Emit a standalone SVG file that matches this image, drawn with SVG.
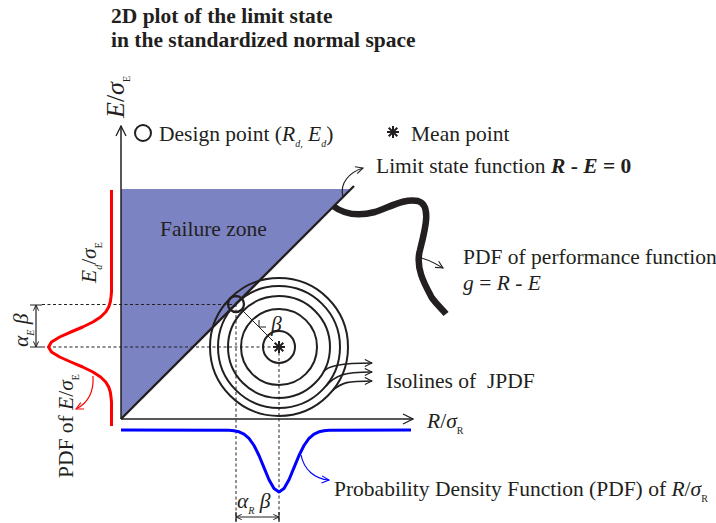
<svg xmlns="http://www.w3.org/2000/svg" width="716" height="523" viewBox="0 0 716 523">
<defs>
<style>
text{font-family:"Liberation Serif","Times New Roman",serif;fill:#231f20}
.t{font-size:21.5px}
.big{font-size:26px}
.title{font-size:21.5px;font-weight:bold}
.i{font-style:italic}
.b{font-weight:bold}
.sub{font-size:10px}
.dash{stroke:#231f20;stroke-width:1;stroke-dasharray:3 2.5;fill:none}
.ln{stroke:#231f20;fill:none}
</style>
<marker id="ak" viewBox="0 0 10 10" refX="9" refY="5" markerWidth="9" markerHeight="9" markerUnits="userSpaceOnUse" orient="auto"><path d="M1,1 L9,5 L1,9" fill="none" stroke="#231f20" stroke-width="1.2"/></marker>
<marker id="ar" viewBox="0 0 10 10" refX="9" refY="5" markerWidth="9" markerHeight="9" markerUnits="userSpaceOnUse" orient="auto"><path d="M1,1 L9,5 L1,9" fill="none" stroke="#ff0000" stroke-width="1.2"/></marker>
<marker id="ab" viewBox="0 0 10 10" refX="9" refY="5" markerWidth="9" markerHeight="9" markerUnits="userSpaceOnUse" orient="auto"><path d="M1,1 L9,5 L1,9" fill="none" stroke="#0000ff" stroke-width="1.2"/></marker>
<marker id="ax" viewBox="0 0 12 12" refX="11" refY="6" markerWidth="12" markerHeight="12" markerUnits="userSpaceOnUse" orient="auto"><path d="M1,1 L11,6 L1,11" fill="none" stroke="#231f20" stroke-width="1.3"/></marker>
<marker id="dm" viewBox="0 0 8 8" refX="7.5" refY="4" markerWidth="7" markerHeight="7" markerUnits="userSpaceOnUse" orient="auto-start-reverse"><path d="M1,1 L7.5,4 L1,7" fill="none" stroke="#231f20" stroke-width="1.1"/></marker>
<g id="star"><path d="M-6,0 H6 M0,-6 V6 M-4.3,-4.3 L4.3,4.3 M-4.3,4.3 L4.3,-4.3" stroke="#231f20" stroke-width="2" fill="none"/></g>
</defs>

<g id="title">
<text class="title" x="111" y="23">2D plot of the limit state</text>
<text class="title" x="111" y="47">in the standardized normal space</text>
</g>

<g id="failure-zone">
<polygon points="121,189 350,189 121,419" fill="#7b83c3"/>
<text class="t" x="160" y="236">Failure zone</text>
</g>

<g id="limit-state">
<line x1="121" y1="419" x2="354" y2="186" stroke="#231f20" stroke-width="2.3"/>
</g>

<g id="guides">
<path class="dash" d="M42,304.5 H236 M42,347 H279 M236,304 V521 M279,347 V521"/>
</g>

<g id="axes">
<line x1="121" y1="419" x2="121" y2="126" class="ln" stroke-width="1.5" marker-end="url(#ax)"/>
<line x1="121" y1="419" x2="413" y2="419" class="ln" stroke-width="1.5" marker-end="url(#ax)"/>
<text class="big" transform="translate(124,118) rotate(-90)"><tspan class="i">E</tspan>/<tspan class="i">σ</tspan><tspan class="sub" dy="6">E</tspan></text>
<text class="t" x="427" y="428"><tspan class="i">R</tspan>/<tspan class="i">σ</tspan><tspan class="sub" dy="6">R</tspan></text>
</g>

<g id="isolines">
<circle cx="279" cy="347" r="16" class="ln" stroke-width="2"/>
<circle cx="279" cy="347" r="38" class="ln" stroke-width="2"/>
<circle cx="279" cy="347" r="51" class="ln" stroke-width="2"/>
<circle cx="279" cy="347" r="61" class="ln" stroke-width="2"/>
<circle cx="279" cy="347" r="69" class="ln" stroke-width="2"/>
<text class="t" x="386" y="388">Isolines of&#160; JPDF</text>
</g>

<g id="mean-point">
<use href="#star" x="279" y="347"/>
</g>

<g id="design-point">
<circle cx="236" cy="304" r="8" class="ln" stroke-width="2.3"/>
<line x1="242" y1="310" x2="273" y2="341" class="ln" stroke-width="1"/>
<path d="M259,320 L259,327 L266,327" class="ln" stroke-width="1"/>
<text class="t i" x="271" y="331">β</text>
</g>

<g id="legend">
<circle cx="143" cy="133" r="8" class="ln" stroke-width="2"/>
<text class="t" x="159" y="141">Design point (<tspan class="i">R</tspan><tspan class="sub i" dy="6">d,</tspan><tspan dy="-6"> </tspan><tspan class="i">E</tspan><tspan class="sub i" dy="6">d</tspan><tspan dy="-6">)</tspan></text>
<use href="#star" x="393" y="132"/>
<text class="t" x="411" y="141">Mean point</text>
</g>

<g id="pdf-E">
<polyline fill="none" stroke="#ff0000" stroke-width="3" stroke-linejoin="round" points="111.5,190 111.5,292 111,297 110.3,302 108.7,307 105.7,312 100.6,317 92.9,322 82.7,327 70.9,332 59.7,337 51.5,342 48.5,347 51.5,352 59.7,357 70.9,362 82.7,367 92.9,372 100.6,377 105.7,382 108.7,387 110.3,392 111,397 111.5,402 111.5,426"/>
<text class="t" transform="translate(96,283) rotate(-90)"><tspan class="i">E</tspan><tspan class="sub i" dy="6">d</tspan><tspan dy="-6">/</tspan><tspan class="i">σ</tspan><tspan class="sub" dy="6">E</tspan></text>
<text class="t" transform="translate(73,478) rotate(-90)">PDF of <tspan class="i">E</tspan>/<tspan class="i">σ</tspan><tspan class="sub" dy="6">E</tspan></text>
</g>

<g id="pdf-R">
<polyline fill="none" stroke="#0000ff" stroke-width="3" stroke-linejoin="round" points="121,430 229,430.2 234,430.7 239,431.8 244,434.1 249,438.4 254,445.5 259,455.5 264,467.6 269,479.7 274,488.6 279,492 284,488.6 289,479.7 294,467.6 299,455.5 304,445.5 309,438.4 314,434.1 319,431.8 324,430.7 329,430.2 411,430"/>
<text class="t" x="334" y="496">Probability Density Function (PDF) of <tspan class="i">R</tspan>/<tspan class="i">σ</tspan><tspan class="sub" dy="6">R</tspan></text>
</g>

<g id="pdf-g">
<path d="M333,206 C345,215 360,216 375,212 C390,207 405,198 418,201 C432,205 425,230 420,250 C415,268 425,285 432,298 C438,306 443,310 446,314" fill="none" stroke="#231f20" stroke-width="6.5"/>
<text class="t" x="463" y="264">PDF of performance function</text>
<text class="t" x="463" y="290"><tspan class="i">g</tspan> = <tspan class="i">R</tspan> - <tspan class="i">E</tspan></text>
</g>

<g id="limit-label">
<text class="t" x="376" y="173">Limit state function <tspan class="b i">R</tspan><tspan class="b"> - </tspan><tspan class="b i">E</tspan><tspan class="b"> = 0</tspan></text>
</g>

<g id="dimensions">
<line x1="36" y1="305" x2="36" y2="347" class="ln" stroke-width="1.2" marker-start="url(#dm)" marker-end="url(#dm)"/>
<path d="M30,305 H42 M30,347 H42" class="ln" stroke-width="1.2"/>
<text class="t" transform="translate(28,347) rotate(-90)"><tspan class="i">α</tspan><tspan class="sub i" dy="6">E</tspan><tspan dy="-6"> </tspan><tspan class="i">β</tspan></text>
<line x1="236" y1="517" x2="279" y2="517" class="ln" stroke-width="1.2" marker-start="url(#dm)" marker-end="url(#dm)"/>
<path d="M236,512 V522 M279,512 V522" class="ln" stroke-width="1.2"/>
<text class="t" x="237" y="508"><tspan class="i">α</tspan><tspan class="sub i" dy="6">R</tspan><tspan dy="-6"> </tspan><tspan class="i">β</tspan></text>
</g>

<g id="connectors">
<path d="M323,372 C328,366 340,363 372,363" class="ln" stroke-width="1.6" marker-end="url(#ak)"/>
<path d="M326,386 C335,376 342,372 372,372" class="ln" stroke-width="1.6" marker-end="url(#ak)"/>
<path d="M332,391 C342,382 348,381 372,381" class="ln" stroke-width="1.6" marker-end="url(#ak)"/>
<path d="M343,197 C339,183 350,172 363,168" class="ln" stroke-width="1.2" marker-end="url(#ak)"/>
<path d="M417,257 C425,258 433,262 443,268" class="ln" stroke-width="1.2" marker-end="url(#ak)"/>
<path d="M93,376 C94,392 88,403 76,409" fill="none" stroke="#ff0000" stroke-width="1.2" marker-end="url(#ar)"/>
<path d="M301,455 C304,470 315,479 329,480" fill="none" stroke="#0000ff" stroke-width="1.2" marker-end="url(#ab)"/>
</g>
</svg>
